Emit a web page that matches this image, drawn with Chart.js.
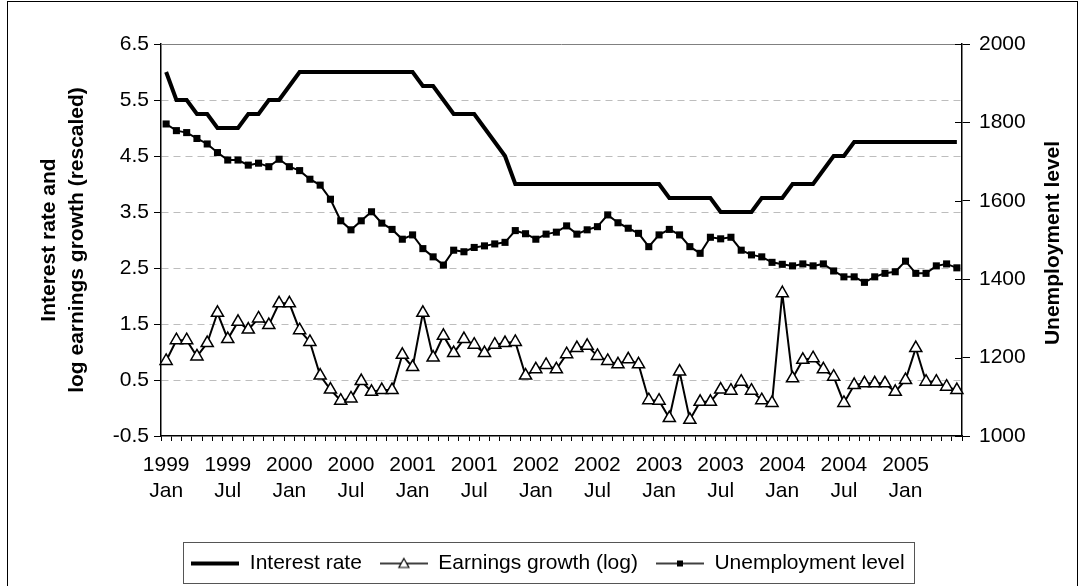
<!DOCTYPE html>
<html>
<head>
<meta charset="utf-8">
<script src="https://cdn.jsdelivr.net/npm/chart.js@4"></script>
<style>
  html, body { margin: 0; padding: 0; background: #fff; }
</style>
</head>
<body>
<canvas id="ratesChart" width="1084" height="586"></canvas>
<script>
const monthNames = ['Jan', 'Feb', 'Mar', 'Apr', 'May', 'Jun', 'Jul', 'Aug', 'Sep', 'Oct', 'Nov', 'Dec'];
const categories = [];
for (let i = 0; i < 78; i++) {
    categories.push((1999 + Math.floor(i / 12)) + ' ' + monthNames[i % 12]);
}

const interestRate = [
    6.0, 5.5, 5.5, 5.25, 5.25, 5.0, 5.0, 5.0, 5.25, 5.25, 5.5, 5.5, 5.75,
    6.0, 6.0, 6.0, 6.0, 6.0, 6.0, 6.0, 6.0, 6.0, 6.0, 6.0, 6.0,
    5.75, 5.75, 5.5, 5.25, 5.25, 5.25, 5.0, 4.75, 4.5,
    4.0, 4.0, 4.0, 4.0, 4.0, 4.0, 4.0, 4.0, 4.0, 4.0, 4.0, 4.0, 4.0, 4.0, 4.0,
    3.75, 3.75, 3.75, 3.75, 3.75,
    3.5, 3.5, 3.5, 3.5,
    3.75, 3.75, 3.75,
    4.0, 4.0, 4.0,
    4.25, 4.5, 4.5,
    4.75, 4.75, 4.75, 4.75, 4.75, 4.75, 4.75, 4.75, 4.75, 4.75, 4.75
];

const earningsGrowth = [
    0.84, 1.21, 1.21, 0.92, 1.16, 1.70, 1.23, 1.54, 1.40, 1.60,
    1.48, 1.87, 1.87, 1.39, 1.18, 0.58, 0.33, 0.13, 0.17, 0.48,
    0.29, 0.32, 0.32, 0.95, 0.73, 1.70, 0.90, 1.29, 0.98, 1.23,
    1.13, 0.98, 1.13, 1.16, 1.18, 0.58, 0.69, 0.77, 0.69, 0.96,
    1.07, 1.11, 0.93, 0.84, 0.78, 0.87, 0.78, 0.14, 0.13, -0.18,
    0.65, -0.21, 0.11, 0.11, 0.33, 0.31, 0.47, 0.31, 0.14, 0.09,
    2.05, 0.53, 0.86, 0.89, 0.69, 0.56, 0.09, 0.41, 0.44, 0.44,
    0.44, 0.29, 0.50, 1.07, 0.47, 0.47, 0.38, 0.32
];

const unemployment = [
    1796, 1779, 1774, 1759, 1745, 1723, 1704, 1704, 1691, 1696,
    1687, 1706, 1687, 1677, 1655, 1640, 1604, 1549, 1526, 1549,
    1572, 1543, 1527, 1502, 1513, 1478, 1457, 1436, 1474, 1470,
    1481, 1485, 1490, 1494, 1524, 1516, 1502, 1515, 1520, 1536,
    1515, 1526, 1534, 1564, 1544, 1530, 1517, 1483, 1513, 1527,
    1513, 1483, 1466, 1507, 1503, 1507, 1474, 1462, 1457, 1443,
    1438, 1434, 1439, 1434, 1439, 1421, 1406, 1406, 1392, 1406,
    1415, 1419, 1446, 1415, 1415, 1434, 1439, 1429
];

const seriesNames = ['Interest rate', 'Earnings growth (log)', 'Unemployment level'];
const FONT = '"Liberation Sans", Arial, sans-serif';

// little line+marker pictures for the legend
function legendSample(kind) {
    const c = document.createElement('canvas');
    c.width = 48;
    c.height = 16;
    const g = c.getContext('2d');
    g.strokeStyle = '#000';
    g.lineWidth = kind === 'thick' ? 4 : 1.5;
    g.beginPath();
    g.moveTo(0, 8);
    g.lineTo(48, 8);
    g.stroke();
    if (kind === 'triangle') {
        g.beginPath();
        g.moveTo(24, 3);
        g.lineTo(29, 12);
        g.lineTo(19, 12);
        g.closePath();
        g.fillStyle = '#fff';
        g.fill();
        g.lineWidth = 1.2;
        g.stroke();
    } else if (kind === 'square') {
        g.fillStyle = '#000';
        g.fillRect(21, 5, 6, 6);
    }
    return c;
}
const samples = [legendSample('thick'), legendSample('triangle'), legendSample('square')];

const framePlugin = {
    id: 'frame',
    beforeDraw(chart) {
        const ctx = chart.ctx;
        ctx.save();
        ctx.fillStyle = '#fff';
        ctx.fillRect(0, 0, chart.width, chart.height);
        ctx.restore();
    },
    afterDraw(chart) {
        const ctx = chart.ctx;
        const area = chart.chartArea;
        ctx.save();
        // outer frame
        ctx.strokeStyle = '#000';
        ctx.lineWidth = 1;
        ctx.strokeRect(7.5, 1.5, 1070, 600);
        // top edge of the plot
        ctx.strokeStyle = '#808080';
        ctx.beginPath();
        ctx.moveTo(area.left, Math.round(area.top) + 0.5);
        ctx.lineTo(area.right, Math.round(area.top) + 0.5);
        ctx.stroke();
        // right axis ticks cross the axis line
        const y1 = chart.scales.y1;
        ctx.strokeStyle = '#000';
        ctx.beginPath();
        y1.ticks.forEach(t => {
            const py = Math.round(y1.getPixelForValue(t.value)) + 0.5;
            ctx.moveTo(area.right - 7, py);
            ctx.lineTo(area.right, py);
        });
        ctx.stroke();
        // right axis title, reading upwards
        ctx.fillStyle = '#000';
        ctx.font = 'bold 21px ' + FONT;
        ctx.textAlign = 'center';
        ctx.textBaseline = 'middle';
        ctx.translate(1053, 243);
        ctx.rotate(-Math.PI / 2);
        ctx.fillText('Unemployment level', 0, 0);
        ctx.restore();
        // box round the legend
        const boxes = chart.legend.legendHitBoxes;
        if (boxes && boxes.length) {
            const first = boxes[0];
            const last = boxes[boxes.length - 1];
            ctx.save();
            ctx.strokeStyle = '#555';
            ctx.lineWidth = 1;
            ctx.strokeRect(Math.round(first.left - 8) + 0.5, 542.5,
                Math.round(last.left + last.width - first.left + 18), 41);
            ctx.restore();
        }
    }
};

const ctx = document.getElementById('ratesChart').getContext('2d');
const ratesChart = new Chart(ctx, {
    type: 'line',
    data: {
        labels: categories,
        datasets: [
            {
                label: seriesNames[0],
                data: interestRate,
                yAxisID: 'y',
                borderColor: '#000',
                borderWidth: 4,
                pointRadius: 0,
                tension: 0,
            },
            {
                label: seriesNames[1],
                data: earningsGrowth,
                yAxisID: 'y',
                borderColor: '#000',
                borderWidth: 2,
                pointStyle: 'triangle',
                pointRadius: 7,
                pointBackgroundColor: '#fff',
                pointBorderColor: '#000',
                pointBorderWidth: 1.5,
                tension: 0,
            },
            {
                label: seriesNames[2],
                data: unemployment,
                yAxisID: 'y1',
                borderColor: '#000',
                borderWidth: 2,
                pointStyle: 'rect',
                pointRadius: 5,
                pointBackgroundColor: '#000',
                pointBorderColor: '#000',
                pointBorderWidth: 0,
                tension: 0,
            }
        ]
    },
    options: {
        responsive: false,
        animation: false,
        devicePixelRatio: 1,
        layout: {
            padding: { left: 12, right: 0, top: 44, bottom: 2 }
        },
        scales: {
            x: {
                offset: true,
                grid: {
                    offset: true,
                    drawOnChartArea: false,
                    tickLength: 5,
                    tickColor: '#000',
                },
                border: { color: '#000', width: 1.5 },
                ticks: {
                    autoSkip: false,
                    maxRotation: 0,
                    minRotation: 0,
                    padding: 12,
                    color: '#000',
                    font: { family: FONT, size: 21 },
                    callback: function (value, index) {
                        return index % 6 === 0 ? categories[index].split(' ') : '';
                    }
                },
                afterFit(scale) { scale.height = 99; }
            },
            y: {
                position: 'left',
                min: -0.5,
                max: 6.5,
                ticks: {
                    stepSize: 1,
                    padding: 5,
                    color: '#000',
                    font: { family: FONT, size: 21 },
                    callback: v => v.toFixed(1)
                },
                grid: {
                    color: ctx => (ctx.tick && (ctx.tick.value === -0.5 || ctx.tick.value === 6.5)) ? 'rgba(0,0,0,0)' : '#bdbdbd',
                    tickColor: '#000',
                    tickLength: 7,
                },
                border: { color: '#000', width: 1.5, dash: [7, 5] },
                title: {
                    display: true,
                    text: ['Interest rate and', 'log earnings growth (rescaled)'],
                    color: '#000',
                    font: { family: FONT, size: 21, weight: 'bold', lineHeight: 1.35 },
                    padding: { top: 23, bottom: 0 }
                },
                afterFit(scale) { scale.width = 149; }
            },
            y1: {
                position: 'right',
                min: 1000,
                max: 2000,
                ticks: {
                    stepSize: 200,
                    padding: 9,
                    color: '#000',
                    font: { family: FONT, size: 21 },
                    callback: v => String(v)
                },
                grid: {
                    drawOnChartArea: false,
                    tickColor: '#000',
                    tickLength: 8,
                },
                border: { color: '#000', width: 1.5 },
                afterFit(scale) { scale.width = 122; }
            }
        },
        plugins: {
            tooltip: { enabled: false },
            legend: {
                position: 'bottom',
                labels: {
                    usePointStyle: true,
                    pointStyleWidth: 48,
                    padding: 18,
                    color: '#000',
                    font: { family: FONT, size: 21 },
                    generateLabels: chart => seriesNames.map((name, i) => ({
                        text: name,
                        pointStyle: samples[i],
                        fillStyle: '#000',
                        strokeStyle: '#000',
                        lineWidth: 0,
                        datasetIndex: i,
                        hidden: false,
                    }))
                }
            }
        }
    },
    plugins: [framePlugin]
});
</script>
</body>
</html>
